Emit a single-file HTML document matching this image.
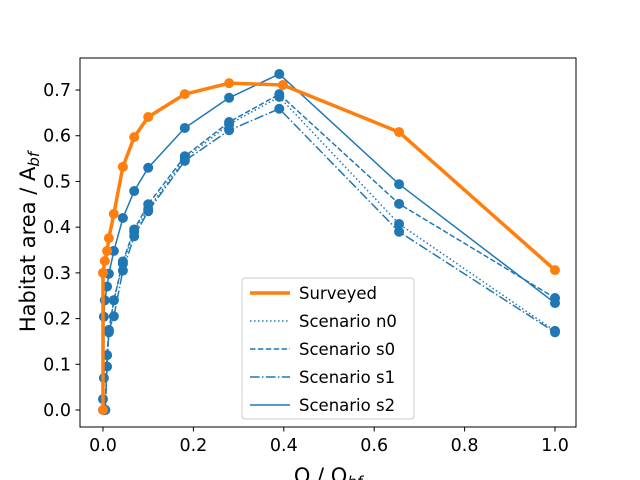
<!DOCTYPE html>
<html><head><meta charset="utf-8"><style>
body{margin:0;background:#fff}
svg{display:block;font-family:"DejaVu Sans","Liberation Sans",sans-serif}
</style></head><body>
<svg id="chart" width="640" height="480" viewBox="0 0 640 480">
<rect x="0" y="0" width="640" height="480" fill="#fff"/>
<g id="marks"></g>
<rect x="80" y="58" width="496" height="369" fill="none" stroke="#000" stroke-width="1"/>
<g id="axes"></g>
<text x="35" y="242" font-size="21" text-anchor="middle" transform="rotate(-90 35 242)">Habitat area / A<tspan font-size="15" dy="4" font-style="italic">bf</tspan></text>
<text x="328" y="483" font-size="21" text-anchor="middle">Q / Q<tspan font-size="15" dy="4" font-style="italic">bf</tspan></text>
<g id="legend"></g>
</svg>
<script>
const surveyedX=[0,0,0.004,0.009,0.013,0.024,0.044,0.069,0.1,0.181,0.279,0.398,0.655,1.0];
const surveyedY=[0,0.30,0.326,0.348,0.376,0.429,0.532,0.597,0.641,0.691,0.715,0.711,0.608,0.306];
const s2X=[0,0,0.002,0.002,0.004,0.009,0.013,0.024,0.044,0.069,0.1,0.181,0.279,0.39,0.655,1.0];
const s2Y=[0,0.024,0.07,0.204,0.24,0.27,0.298,0.348,0.42,0.479,0.53,0.617,0.683,0.735,0.494,0.234];
const scenX=[0.005,0.009,0.013,0.024,0.044,0.069,0.1,0.181,0.279,0.39,0.655,1.0];
const n0Y=[0,0.12,0.17,0.24,0.32,0.39,0.44,0.55,0.625,0.685,0.407,0.173];
const s0Y=[0,0.12,0.175,0.24,0.325,0.395,0.45,0.555,0.63,0.691,0.451,0.245];
const s1Y=[0,0.095,0.175,0.205,0.305,0.38,0.435,0.545,0.612,0.659,0.39,0.17];
const xTicks=[0,0.2,0.4,0.6,0.8,1.0];
const xTickLabels=["0.0","0.2","0.4","0.6","0.8","1.0"];
const yTicks=[0,0.1,0.2,0.3,0.4,0.5,0.6,0.7];
const yTickLabels=["0.0","0.1","0.2","0.3","0.4","0.5","0.6","0.7"];
const NS="http://www.w3.org/2000/svg";
function sx(v){return 103+v*452;}
function sy(v){return 410-v*457.1;}
function mk(t,a,p){const e=document.createElementNS(NS,t);for(const k in a)e.setAttribute(k,a[k]);p.appendChild(e);return e;}
const marks=document.getElementById('marks');
const blue="#1f77b4",orange="#ff7f0e";
function series(xs,ys,color,w,dash,r,name){
  const g=mk('g',{},marks);
  
  
  const pts=xs.map((x,i)=>sx(x)+','+sy(ys[i])).join(' ');
  const l=mk('polyline',{points:pts,fill:'none',stroke:color,'stroke-width':w,'stroke-dasharray':dash,'stroke-linejoin':'round'},g);
  
  
  xs.forEach((x,i)=>{const c=mk('circle',{cx:sx(x),cy:sy(ys[i]),r:r,fill:color},g);
    
    });
}
series(scenX,n0Y,blue,1.5,'1.5 2.5',5,'scenario-n0');
series(scenX,s0Y,blue,1.5,'5.5 2.4',5,'scenario-s0');
series(scenX,s1Y,blue,1.5,'9.6 2.4 1.5 2.4',5,'scenario-s1');
series(s2X,s2Y,blue,1.5,'none',5,'scenario-s2');
series(surveyedX,surveyedY,orange,3.5,'none',5,'surveyed');
const axes=document.getElementById('axes');
xTicks.forEach((v,i)=>{
  const t=mk('line',{x1:sx(v),x2:sx(v),y1:427,y2:431.5,stroke:'#000'},axes);
  
  
  const l=mk('text',{x:sx(v),y:451,'font-size':'17.5','text-anchor':'middle'},axes);l.textContent=xTickLabels[i];
  
  
});
yTicks.forEach((v,i)=>{
  const t=mk('line',{x1:75.5,x2:80,y1:sy(v),y2:sy(v),stroke:'#000'},axes);
  
  
  const l=mk('text',{x:71,y:sy(v)+6,'font-size':'17.5','text-anchor':'end'},axes);l.textContent=yTickLabels[i];
  
  
});
const lg=document.getElementById('legend');


mk('rect',{x:242,y:278,width:172,height:141,rx:3,fill:'#fff','fill-opacity':0.8,stroke:'#ccc'},lg);
const entries=[["Surveyed",orange,3.5,'none'],["Scenario n0",blue,1.5,'1.5 2.5'],["Scenario s0",blue,1.5,'5.5 2.4'],["Scenario s1",blue,1.5,'9.6 2.4 1.5 2.4'],["Scenario s2",blue,1.5,'none']];
entries.forEach((e,i)=>{
  const y=293+i*28;
  const g=mk('g',{},lg);
  
  
  mk('line',{x1:250,x2:290,y1:y,y2:y,stroke:e[1],'stroke-width':e[2],'stroke-dasharray':e[3]},g);
  const t=mk('text',{x:299,y:y+6,'font-size':'16.5'},g);t.textContent=e[0];
});
</script>
</body></html>
